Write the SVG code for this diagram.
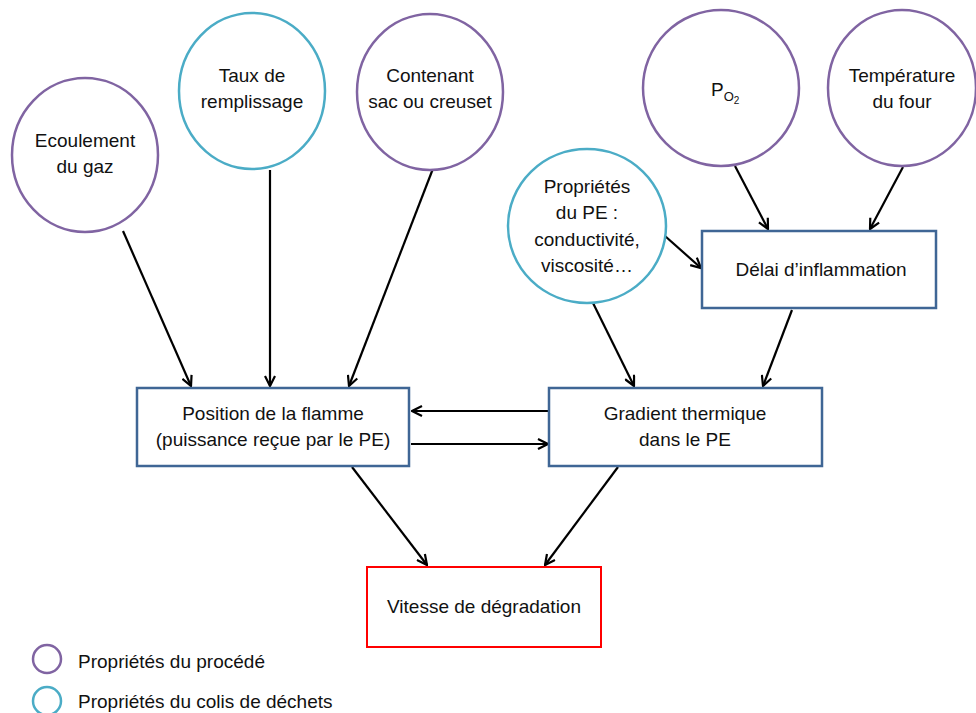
<svg xmlns="http://www.w3.org/2000/svg" width="976" height="713" viewBox="0 0 976 713">
<defs>
<marker id="arr" viewBox="0 0 12 12" refX="11" refY="6" markerWidth="12" markerHeight="12" markerUnits="userSpaceOnUse" orient="auto">
<path d="M1,1 L11,6 L1,11" fill="none" stroke="#000" stroke-width="2.2"/>
</marker>
<style>
text{font-family:"Liberation Sans",Arial,sans-serif;font-size:19px;fill:#111;text-anchor:middle}
.proc{fill:#fff;stroke:#8064A2;stroke-width:2.5}
.colis{fill:#fff;stroke:#4BACC6;stroke-width:2.5}
.box{fill:#fff;stroke:#3F6695;stroke-width:2.5}
.red{fill:#fff;stroke:#FF0000;stroke-width:2}
.c{fill:none;stroke:#000;stroke-width:2.2;marker-end:url(#arr)}
.leg{text-anchor:start}
</style>
</defs>
<rect width="976" height="713" fill="#fff"/>
<g id="connectors">
<line class="c" x1="123" y1="231" x2="191" y2="386"/>
<line class="c" x1="270" y1="170" x2="270" y2="386"/>
<line class="c" x1="434" y1="166" x2="349" y2="386"/>
<line class="c" x1="665" y1="236" x2="701" y2="268"/>
<line class="c" x1="735" y1="166" x2="768" y2="229"/>
<line class="c" x1="903" y1="167" x2="870" y2="229"/>
<line class="c" x1="593" y1="303" x2="634" y2="386"/>
<line class="c" x1="792" y1="310" x2="763" y2="386"/>
<line class="c" x1="549" y1="411" x2="412" y2="411"/>
<line class="c" x1="411" y1="444" x2="548" y2="444"/>
<line class="c" x1="352" y1="467" x2="427" y2="565"/>
<line class="c" x1="618" y1="467" x2="545" y2="565"/>
</g>
<g id="ecoulement">
<ellipse class="proc" cx="85" cy="155" rx="73" ry="77"/>
<text x="85" y="147">Ecoulement</text>
<text x="85" y="173">du gaz</text>
</g>
<g id="taux">
<ellipse class="colis" cx="252" cy="91" rx="73" ry="78"/>
<text x="252" y="82">Taux de</text>
<text x="252" y="108">remplissage</text>
</g>
<g id="contenant">
<ellipse class="proc" cx="430" cy="92" rx="73" ry="78"/>
<text x="430" y="82">Contenant</text>
<text x="430" y="108">sac ou creuset</text>
</g>
<g id="po2">
<ellipse class="proc" cx="721" cy="88" rx="78" ry="78"/>
<text x="711" y="96" style="text-anchor:start">P<tspan font-size="13" dy="5">O</tspan><tspan font-size="10" dy="3">2</tspan></text>
</g>
<g id="temperature">
<ellipse class="proc" cx="902" cy="88" rx="74" ry="78"/>
<text x="902" y="82">Température</text>
<text x="902" y="108">du four</text>
</g>
<g id="proprietes-pe">
<ellipse class="colis" cx="587" cy="226" rx="79" ry="77"/>
<text x="587" y="193">Propriétés</text>
<text x="587" y="219">du PE :</text>
<text x="587" y="246">conductivité,</text>
<text x="587" y="272">viscosité…</text>
</g>
<g id="delai">
<rect class="box" x="702" y="231" width="234" height="77"/>
<text x="821" y="276">Délai d’inflammation</text>
</g>
<g id="position">
<rect class="box" x="137" y="388" width="272" height="78"/>
<text x="273" y="420">Position de la flamme</text>
<text x="273" y="446">(puissance reçue par le PE)</text>
</g>
<g id="gradient">
<rect class="box" x="549" y="388" width="273" height="78"/>
<text x="685" y="420">Gradient thermique</text>
<text x="685" y="446">dans le PE</text>
</g>
<g id="vitesse">
<rect class="red" x="367" y="567" width="234" height="80"/>
<text x="484" y="613">Vitesse de dégradation</text>
</g>
<g id="legend">
<circle cx="47" cy="659" r="14" fill="none" stroke="#8064A2" stroke-width="2.5"/>
<circle cx="47" cy="701" r="14" fill="none" stroke="#4BACC6" stroke-width="2.5"/>
<text class="leg" x="78" y="668">Propriétés du procédé</text>
<text class="leg" x="78" y="708">Propriétés du colis de déchets</text>
</g>
</svg>
